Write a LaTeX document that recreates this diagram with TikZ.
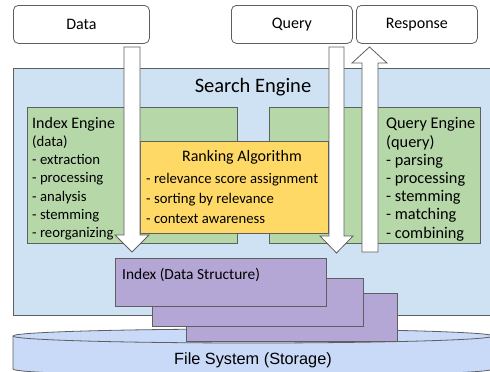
\documentclass[tikz,border=0pt]{standalone}
\usepackage{fontspec}
\setmainfont{Carlito}
\newfontfamily\arialf{Liberation Sans}
\definecolor{sebg}{HTML}{CFE2F3}
\definecolor{grn}{HTML}{B6D7A8}
\definecolor{yel}{HTML}{FFD966}
\definecolor{pur}{HTML}{B4A7D6}
\definecolor{cyl}{HTML}{C9DAF8}
\definecolor{bord}{HTML}{5F5F5F}
\tikzset{
  box/.style={draw=bord, line width=0.8pt, anchor=north west, inner sep=0pt},
  topbox/.style={box, fill=white, rounded corners=5pt, minimum width=#1, minimum height=38pt},
  txt/.style={inner sep=0pt, align=left, anchor=north west},
  blockarrow/.style={draw=bord, fill=white, line width=0.8pt, line join=miter},
  fs16/.style={font=\fontsize{16}{18.2}\selectfont},
}
\begin{document}
\begin{tikzpicture}[x=1pt,y=-1pt]
\useasboundingbox (0,0) rectangle (490,372);
% top boxes
\node[topbox=136pt] (data) at (13,5) {};
\node[fs16] (datat) at (data.center) {Data};
\node[topbox=121pt] (query) at (231,5) {};
\node[fs16] (queryt) at (query.center) {Query};
\node[topbox=121pt] (resp) at (356,5) {};
\node[fs16] (respt) at (resp.center) {Response};
% search engine
\node[box, fill=sebg, minimum width=480pt, minimum height=247pt] (se) at (13,68) {};
\node[font=\fontsize{20.5}{24}\selectfont] (set) at (253,87) {Search Engine};
% green boxes
\node[box, fill=grn, minimum width=210pt, minimum height=136pt] (ie) at (27,107) {};
\node[box, fill=grn, minimum width=211pt, minimum height=136pt] (qe) at (269,107) {};
\node[txt, font=\fontsize{14.7}{18.2}\selectfont] (iet) at (32,117) {{\fontsize{16}{18.2}\selectfont Index Engine}\\
  (data)\\- extraction\\- processing\\- analysis\\- stemming\\- reorganizing};
\node[txt, font=\fontsize{16.3}{18.2}\selectfont] (qet) at (386,117.5) {Query Engine\\(query)\\- parsing\\- processing\\- stemming\\- matching\\- combining};
% yellow
\node[box, fill=yel, minimum width=188pt, minimum height=92pt] (ra) at (140,141) {};
\node[fs16] (rat) at (242,157) {Ranking Algorithm};
\node[txt, font=\fontsize{14.7}{20}\selectfont] (rai) at (146,173) {- relevance score assignment\\- sorting by relevance\\- context awareness};
% block arrows
\draw[blockarrow] (124,47) -- (140,47) -- (140,235) -- (149,235) -- (132,252) -- (115,235) -- (124,235) -- cycle;
\draw[blockarrow] (329,47) -- (344,47) -- (344,236) -- (353,236) -- (336.5,253) -- (320,236) -- (329,236) -- cycle;
\draw[blockarrow] (362,252) -- (378,252) -- (378,63) -- (387,63) -- (369.5,47) -- (352,63) -- (362,63) -- cycle;
% cylinder
\draw[draw=bord, fill=cyl, line width=0.8pt] (13,336) -- (13,369) arc[start angle=180, end angle=0, x radius=240, y radius=7] -- (493,336) arc[start angle=0, end angle=-180, x radius=240, y radius=7] -- cycle;
\draw[draw=bord, line width=0.8pt] (13,336) arc[start angle=180, end angle=0, x radius=240, y radius=7];
\node[font=\arialf\fontsize{16.3}{19}\selectfont] (fst) at (253,360) {File System (Storage)};
% purple stack
\node[box, fill=pur, minimum width=211pt, minimum height=48pt] (p3) at (186,293) {};
\node[box, fill=pur, minimum width=211pt, minimum height=48pt] (p2) at (152,278) {};
\node[box, fill=pur, minimum width=211pt, minimum height=48pt] (p1) at (115,258) {};
\node[anchor=west, inner sep=0pt, font=\fontsize{15.4}{18}\selectfont] (p1t) at (122,275) {Index (Data Structure)};
\end{tikzpicture}
\end{document}
